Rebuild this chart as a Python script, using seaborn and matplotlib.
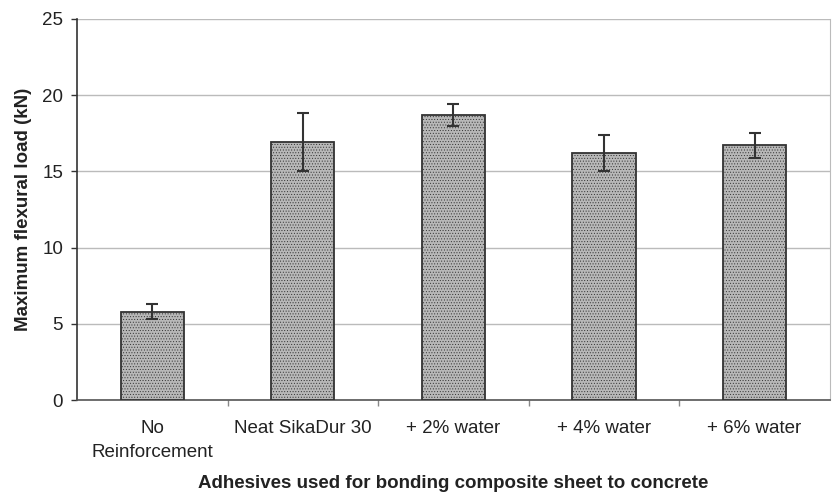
import numpy as np
import pandas as pd
import matplotlib
matplotlib.use("Agg")
import matplotlib.pyplot as plt
import seaborn as sns

categories = ["No\nReinforcement", "Neat SikaDur 30", "+ 2% water", "+ 4% water", "+ 6% water"]
loads = [5.8, 16.9, 18.7, 16.2, 16.7]
errors = [0.5, 1.9, 0.7, 1.2, 0.8]
yticks = [0, 5, 10, 15, 20, 25]

sns.set_style("white")
plt.rcParams['font.family'] = ['Liberation Sans', 'DejaVu Sans']
plt.rcParams['hatch.color'] = '#8a8a8a'
plt.rcParams['hatch.linewidth'] = 0.4

fig = plt.figure(figsize=(8.32, 4.97), dpi=100)
ax = fig.add_axes([0.0925, 0.195, 0.905, 0.767])

df = pd.DataFrame({"cat": categories, "load": loads})
sns.barplot(data=df, x="cat", y="load", ax=ax, color="#b8b8b8", width=0.42,
            edgecolor="#333333", linewidth=1.3, errorbar=None, saturation=1)
for p in ax.patches:
    p.set_hatch("......")
    p.set_zorder(3)

pos = np.arange(len(categories))
ax.errorbar(pos, loads, yerr=errors, fmt='none', ecolor="#333333",
            elinewidth=1.5, capsize=4.5, capthick=1.5, zorder=4)

ax.set_ylim(0, 25)
ax.set_xlim(-0.5, len(categories) - 0.5)
ax.set_yticks(yticks)
ax.yaxis.grid(True, color="#bbbbbb", linewidth=1.0, zorder=0)
ax.set_axisbelow(True)

ax.tick_params(axis='y', labelsize=13.5, length=4, width=1, color="#333333",
               left=True, labelcolor="#222222", pad=6)
ax.tick_params(axis='x', which='major', labelsize=13.5, length=0, pad=14, labelcolor="#222222")
for t in ax.get_xticklabels():
    t.set_linespacing(1.55)
ax.set_xticks(np.arange(len(categories) - 1) + 0.5, minor=True)
ax.tick_params(axis='x', which='minor', length=4, width=1, color="#888888", bottom=True)

ax.spines["top"].set_visible(False)
ax.spines["right"].set_color("#bbbbbb")
ax.spines["left"].set_color("#333333")
ax.spines["bottom"].set_color("#555555")
ax.spines["left"].set_linewidth(1.2)
ax.spines["bottom"].set_linewidth(1.2)

ax.set_ylabel("Maximum flexural load (kN)", fontsize=13.5, fontweight="bold", color="#222222", labelpad=7)
ax.set_xlabel("Adhesives used for bonding composite sheet to concrete", fontsize=13.5,
              fontweight="bold", color="#222222", labelpad=10)

fig.savefig("out.png", dpi=100)
